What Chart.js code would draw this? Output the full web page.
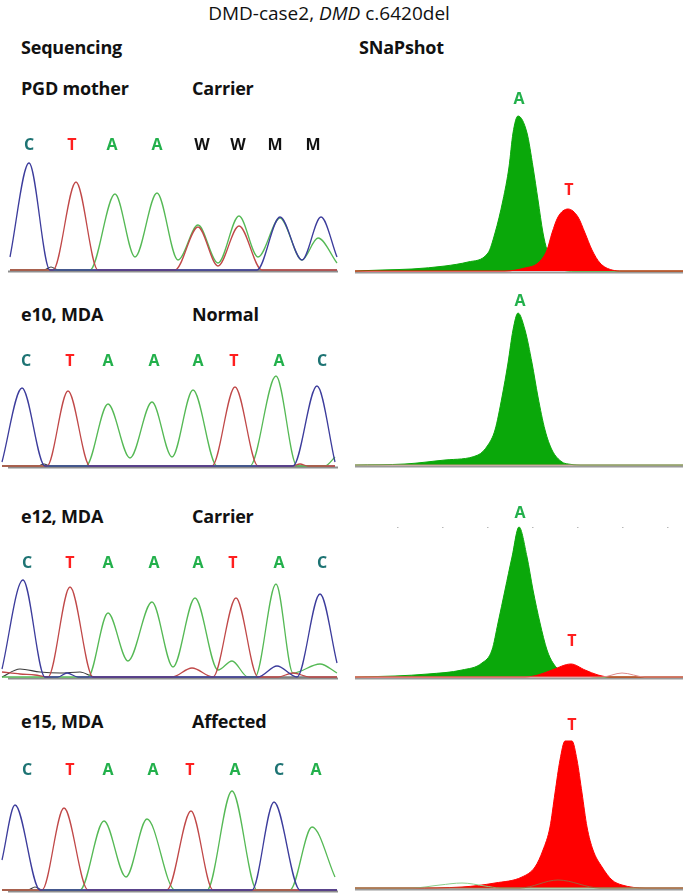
<!DOCTYPE html>
<html>
<head>
<meta charset="utf-8">
<script src="https://cdn.jsdelivr.net/npm/chart.js@4.4.1/dist/chart.umd.min.js"></script>
<style>
  body { margin: 0; background: #fff; }
  #page { position: relative; width: 685px; height: 894px; overflow: hidden; font-family: "Open Sans", sans-serif; color: #111; }
  .lbl { position: absolute; font-size: 18px; font-weight: 700; line-height: 20px; white-space: nowrap; letter-spacing: -0.2px; }
  #title { position: absolute; top: 2px; left: 0; width: 658px; text-align: center; font-size: 19px; line-height: 22px; }
  canvas { position: absolute; }
</style>
</head>
<body>
<div id="page">
  <div id="title">DMD-case2, <i>DMD</i> c.6420del</div>
  <div class="lbl" style="left:21px;top:37px">Sequencing</div>
  <div class="lbl" style="left:359px;top:37px">SNaPshot</div>

  <div class="lbl" style="left:21px;top:78px">PGD mother</div>
  <div class="lbl" style="left:192px;top:78px">Carrier</div>
  <div class="lbl" style="left:21px;top:304px">e10, MDA</div>
  <div class="lbl" style="left:192px;top:304px">Normal</div>
  <div class="lbl" style="left:21px;top:506px">e12, MDA</div>
  <div class="lbl" style="left:192px;top:506px">Carrier</div>
  <div class="lbl" style="left:21px;top:711px">e15, MDA</div>
  <div class="lbl" style="left:192px;top:711px">Affected</div>

  <canvas id="seq1" width="340" height="144"></canvas>
  <canvas id="seq2" width="340" height="144"></canvas>
  <canvas id="seq3" width="340" height="144"></canvas>
  <canvas id="seq4" width="340" height="144"></canvas>
  <canvas id="snap1" width="335" height="185"></canvas>
  <canvas id="snap2" width="335" height="185"></canvas>
  <canvas id="snap3" width="335" height="185"></canvas>
  <canvas id="snap4" width="335" height="185"></canvas>
</div>
<script>
// Sequencing traces: [scan position, signal]
const seq1Blue  = [[10,13],[29,107],[50,0],[257,0],[280,53],[302,10],[321,53],[337,13]];
const seq1Red   = [[10,0],[53,0],[76,88],[98,0],[175,0],[198,43],[218,4],[239,44],[262,0],[337,0]];
const seq1Green = [[10,0],[90,0],[115,76],[135,13],[157,77],[178,10],[198,45],[218,7],[239,54],[258,13],[280,52],[302,10],[318,32],[337,7]];
const seq1Black = [[10,0],[44,0],[51,3],[58,0],[337,0]];
const seq1Bases = ['C','T','A','A','W','W','M','M'];
const seq1Calls = [29,72,112,157,202,238,275,313];

const seq2Blue  = [[2,4],[22,78],[45,0],[293,0],[317,80],[335,4]];
const seq2Red   = [[2,0],[47,0],[68,75],[90,0],[212,0],[235,79],[258,0],[292,0],[300,2],[308,0],[335,0]];
const seq2Green = [[2,0],[86,0],[108,62],[130,8],[152,64],[172,9],[193,76],[217,0],[250,0],[276,90],[297,0],[325,0],[335,9]];
const seq2Black = [[2,0],[38,0],[44,2],[50,0],[335,0]];
const seq2Bases = ['C','T','A','A','A','T','A','C'];
const seq2Calls = [26,70,108,154,198,234,279,322];

const seq3Blue  = [[2,8],[23,97],[45,0],[58,0],[67,4],[78,0],[258,0],[277,11],[297,0],[320,83],[337,14]];
const seq3Red   = [[2,5],[20,3],[35,2],[48,0],[70,90],[93,0],[172,0],[192,9],[213,0],[236,79],[258,0],[278,0],[293,4],[310,0],[337,0]];
const seq3Green = [[2,0],[88,0],[108,64],[128,16],[152,75],[173,10],[195,79],[218,7],[232,16],[248,0],[255,0],[276,93],[293,4],[320,13],[337,4]];
const seq3Black = [[2,0],[20,8],[40,5],[60,4],[80,5],[95,0],[337,0]];
const seq3Bases = ['C','T','A','A','A','T','A','C'];
const seq3Calls = [27,70,108,154,198,233,279,322];

const seq4Blue  = [[2,30],[15,85],[40,0],[252,0],[274,88],[300,0],[337,0]];
const seq4Red   = [[2,0],[42,0],[64,82],[88,0],[167,0],[191,79],[213,0],[337,0]];
const seq4Green = [[2,0],[80,0],[104,69],[126,13],[147,71],[175,0],[207,0],[232,99],[257,0],[290,0],[312,63],[335,13]];
const seq4Black = [[2,0],[28,0],[35,3],[42,0],[337,0]];
const seq4Bases = ['C','T','A','A','T','A','C','A'];
const seq4Calls = [27,70,108,153,190,235,279,316];

// SNaPshot peaks: [size position, signal]
const snap1Green = [[355,0],[382,1],[412,2],[445,5],[468,9],[488,18],[495,38],[503,71],[509,104],[513,138],[518,155],[527,138],[533,104],[538,71],[543,38],[547,21],[552,8],[562,1],[575,0],[683,0]];
const snap1Red   = [[355,0],[505,0],[525,3],[538,8],[547,21],[552,38],[558,54],[568,62],[578,54],[585,38],[592,21],[600,8],[612,1],[622,0],[683,0]];
const snap1Calls = [['A',519,172],['T',569,81]];

const snap2Green = [[355,0],[405,1],[445,5],[478,10],[488,20],[495,35],[502,68],[508,102],[513,135],[518,152],[525,135],[532,102],[538,68],[545,35],[552,15],[562,3],[568,1],[580,0],[683,0]];
const snap2Red   = [[355,0],[683,0]];
const snap2Calls = [['A',520,164]];

const snap3Green = [[355,0],[395,1],[428,3],[462,7],[482,14],[492,27],[498,54],[505,87],[512,120],[519,150],[527,120],[533,87],[540,54],[547,27],[553,14],[562,5],[578,2],[598,0],[683,0]];
const snap3Red   = [[355,0],[525,0],[538,2],[552,7],[571,13],[585,7],[598,2],[610,0],[683,0]];
const snap3Trace = [[355,0],[602,0],[622,4],[645,0],[683,0]];
const snap3Calls = [['A',520,164],['T',572,36]];

const snap4Red   = [[355,0],[412,0],[462,1],[495,5],[522,11],[535,21],[543,38],[550,61],[555,95],[560,128],[565,147],[572,147],[577,128],[582,95],[587,61],[593,38],[602,21],[612,8],[622,3],[645,0],[683,0]];
const snap4Green = [[355,0],[412,0],[440,3],[462,5],[485,2],[500,0],[683,0]];
const snap4Trace = [[355,0],[520,0],[558,8],[600,0],[683,0]];
const snap4Calls = [['T',572,163]];

const baseColors = { C: '#1d7373', T: '#ff1f1f', A: '#22b04b', W: '#111', M: '#111', G: '#111' };

const toXY = pts => pts.map(p => ({ x: p[0], y: p[1] }));

// baseline, optional dotted grid and base call letters, drawn through the chart's scales
const tracePlugin = {
    id: 'trace',
    beforeDatasetsDraw(chart, args, opts) {
        const ctx = chart.ctx;
        const xs = chart.scales.x, ys = chart.scales.y;
        const y = ys.getPixelForValue(0) + opts.offset;
        ctx.save();
        ctx.strokeStyle = opts.color;
        ctx.lineWidth = opts.width;
        ctx.beginPath();
        ctx.moveTo(xs.getPixelForValue(opts.from), y);
        ctx.lineTo(xs.getPixelForValue(opts.to), y);
        ctx.stroke();
        if (opts.grid !== undefined) {
            const gy = Math.round(ys.getPixelForValue(opts.grid)) + 0.5;
            ctx.strokeStyle = '#b8b8b8';
            ctx.lineWidth = 1;
            ctx.setLineDash([1.5, 43.5]);
            ctx.beginPath();
            ctx.moveTo(xs.getPixelForValue(397), gy);
            ctx.lineTo(xs.getPixelForValue(672), gy);
            ctx.stroke();
        }
        ctx.restore();
    },
    afterDatasetsDraw(chart, args, opts) {
        const ctx = chart.ctx;
        ctx.save();
        ctx.font = '700 16px "Open Sans", sans-serif';
        ctx.textAlign = 'center';
        ctx.textBaseline = 'middle';
        opts.marks.forEach(m => {
            ctx.fillStyle = baseColors[m[0]];
            ctx.fillText(m[0], chart.scales.x.getPixelForValue(m[1]), chart.scales.y.getPixelForValue(m[2]));
        });
        ctx.restore();
    }
};

function line(pts, color, width, fill) {
    return {
        data: toXY(pts),
        borderColor: color,
        backgroundColor: color,
        borderWidth: width,
        fill: fill ? 'origin' : false,
        pointRadius: 0,
        cubicInterpolationMode: 'monotone'
    };
}

function baseOptions(xMin, xMax, yMin, yMax, plugin) {
    return {
        responsive: false,
        animation: false,
        events: [],
        layout: { padding: 0, autoPadding: false },
        plugins: { legend: { display: false }, tooltip: { enabled: false }, trace: plugin },
        scales: {
            x: { type: 'linear', display: false, min: xMin, max: xMax },
            y: { display: false, min: yMin, max: yMax }
        }
    };
}

function seqChart(id, baseline, blue, red, green, black, bases, calls, callY) {
    const canvas = document.getElementById(id);
    canvas.style.left = '0px';
    canvas.style.top = (baseline - 140) + 'px';
    const level = baseline - callY;
    return new Chart(canvas, {
        type: 'line',
        data: {
            datasets: [
                line(blue, '#3c3c9c', 1.3),
                line(red, '#c04848', 1.3),
                line(green, '#55b955', 1.3),
                line(black, '#3a3a3a', 1.2)
            ]
        },
        options: baseOptions(0, 340, -4, 140, {
            offset: 1.5, color: '#8e8e8e', width: 2, from: 8, to: 338,
            marks: bases.map((b, i) => [b, calls[i], level])
        }),
        plugins: [tracePlugin]
    });
}

function snapChart(id, baseline, datasets, calls, grid) {
    const canvas = document.getElementById(id);
    canvas.style.left = '350px';
    canvas.style.top = (baseline - 180) + 'px';
    return new Chart(canvas, {
        type: 'line',
        data: { datasets: datasets },
        options: baseOptions(350, 685, -5, 180, {
            offset: 1.5, color: '#9a9a9a', width: 2, from: 355, to: 683,
            marks: calls, grid: grid
        }),
        plugins: [tracePlugin]
    });
}

seqChart('seq1', 270, seq1Blue, seq1Red, seq1Green, seq1Black, seq1Bases, seq1Calls, 145);
seqChart('seq2', 466, seq2Blue, seq2Red, seq2Green, seq2Black, seq2Bases, seq2Calls, 361);
seqChart('seq3', 677, seq3Blue, seq3Red, seq3Green, seq3Black, seq3Bases, seq3Calls, 563);
seqChart('seq4', 890, seq4Blue, seq4Red, seq4Green, seq4Black, seq4Bases, seq4Calls, 770);

const snapGreen = '#0aa80a';
const snapRed = '#ff0000';
snapChart('snap1', 271, [line(snap1Red, snapRed, 1, true), line(snap1Green, snapGreen, 1, true)], snap1Calls);
snapChart('snap2', 465, [line(snap2Red, '#c89080', 1), line(snap2Green, snapGreen, 1, true)], snap2Calls);
snapChart('snap3', 677, [line(snap3Trace, '#e08a8a', 1), line(snap3Red, snapRed, 1, true), line(snap3Green, snapGreen, 1, true)], snap3Calls, 150);
snapChart('snap4', 888, [line(snap4Trace, '#a0603a', 1), line(snap4Green, '#8ccf8c', 1), line(snap4Red, snapRed, 1, true)], snap4Calls);
</script>
</body>
</html>
